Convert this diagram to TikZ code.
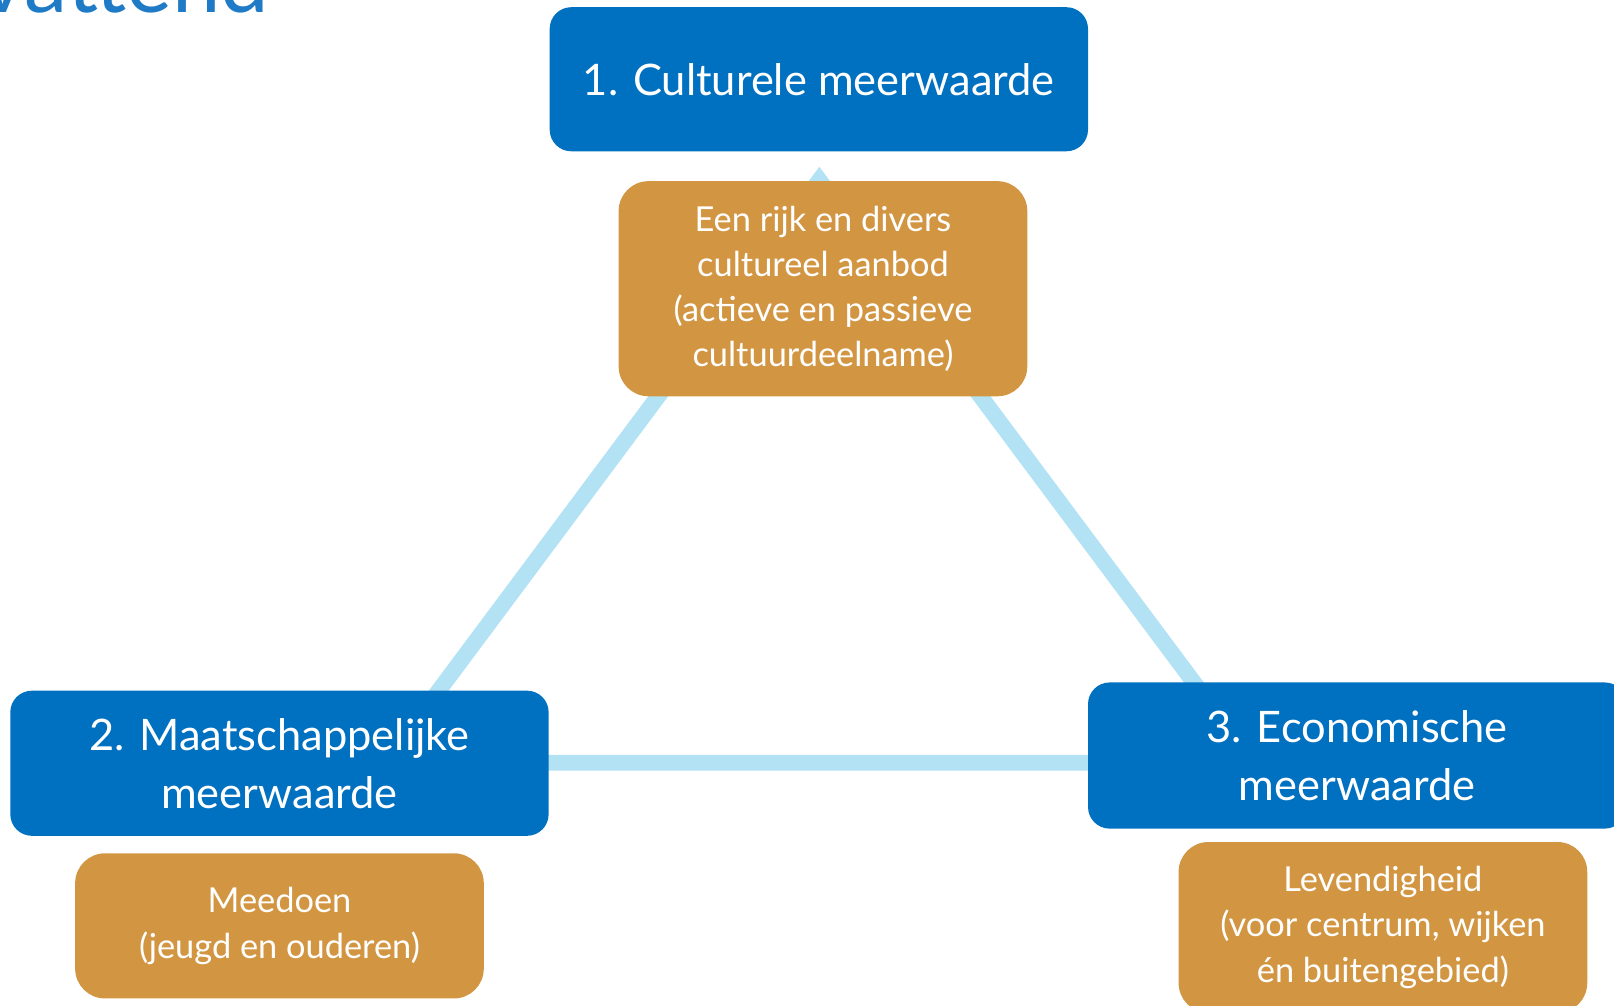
\documentclass[tikz,border=0pt]{standalone}
\usepackage{fontspec}
\setmainfont{Lato}

\definecolor{kopblauw}{HTML}{0070C0}
\definecolor{okerbruin}{HTML}{D29643}
\definecolor{lijnblauw}{HTML}{B3E2F5}
\definecolor{titelblauw}{HTML}{1F7BC6}

\tikzset{
	kop/.style={shape=rectangle, fill=kopblauw, text=white, rounded corners=0.42cm,
		minimum width=10.46cm, align=center, font=\fontsize{24}{32}\selectfont},
	thema/.style={shape=rectangle, fill=okerbruin, text=white, rounded corners=0.58cm,
		minimum width=7.94cm, align=center, font=\fontsize{19}{25}\selectfont},
	driehoek/.style={draw=lijnblauw, line width=0.31cm, line join=miter}
}

\begin{document}
\begin{tikzpicture}
	% Canvas and title remainder:
	\useasboundingbox (0, 0) rectangle (31.36, 19.54);
	\clip (0, 0) rectangle (31.36, 19.54);
	\node[anchor=base east, inner sep=0pt, text=titelblauw,
	font=\fontsize{48}{48}\selectfont] (titel) at (5.24, 19.30){vattend};
	
	% Triangle behind the boxes
	\coordinate (top) at (15.92, 16.04);
	\coordinate (links) at (7.48, 4.72);
	\coordinate (rechts) at (24.36, 4.72);
	\draw[driehoek] (top) -- (links) -- (rechts) -- cycle;
	
	% 1. Culturele meerwaarde
	\node[kop, minimum height=2.8cm] (K1) at (15.91, 18.0){1. Culturele meerwaarde};
	\node[thema, minimum height=4.18cm] (T1) at (15.99, 13.93)
	{Een rijk en divers\\cultureel aanbod\\(actieve en passieve\\cultuurdeelname)};
	
	% 2. Maatschappelijke meerwaarde
	\node[kop, minimum height=2.82cm] (K2) at (5.43, 4.71)
	{2. Maatschappelijke\\meerwaarde};
	\node[thema, minimum height=2.82cm] (T2) at (5.43, 1.55)
	{Meedoen\\(jeugd en ouderen)};
	
	% 3. Economische meerwaarde
	\node[kop, minimum height=2.84cm] (K3) at (26.37, 4.86)
	{3. Economische\\meerwaarde};
	\node[thema, minimum height=3.32cm] (T3) at (26.87, 1.52)
	{Levendigheid\\(voor centrum, wijken\\én buitengebied)};
\end{tikzpicture}
\end{document}
